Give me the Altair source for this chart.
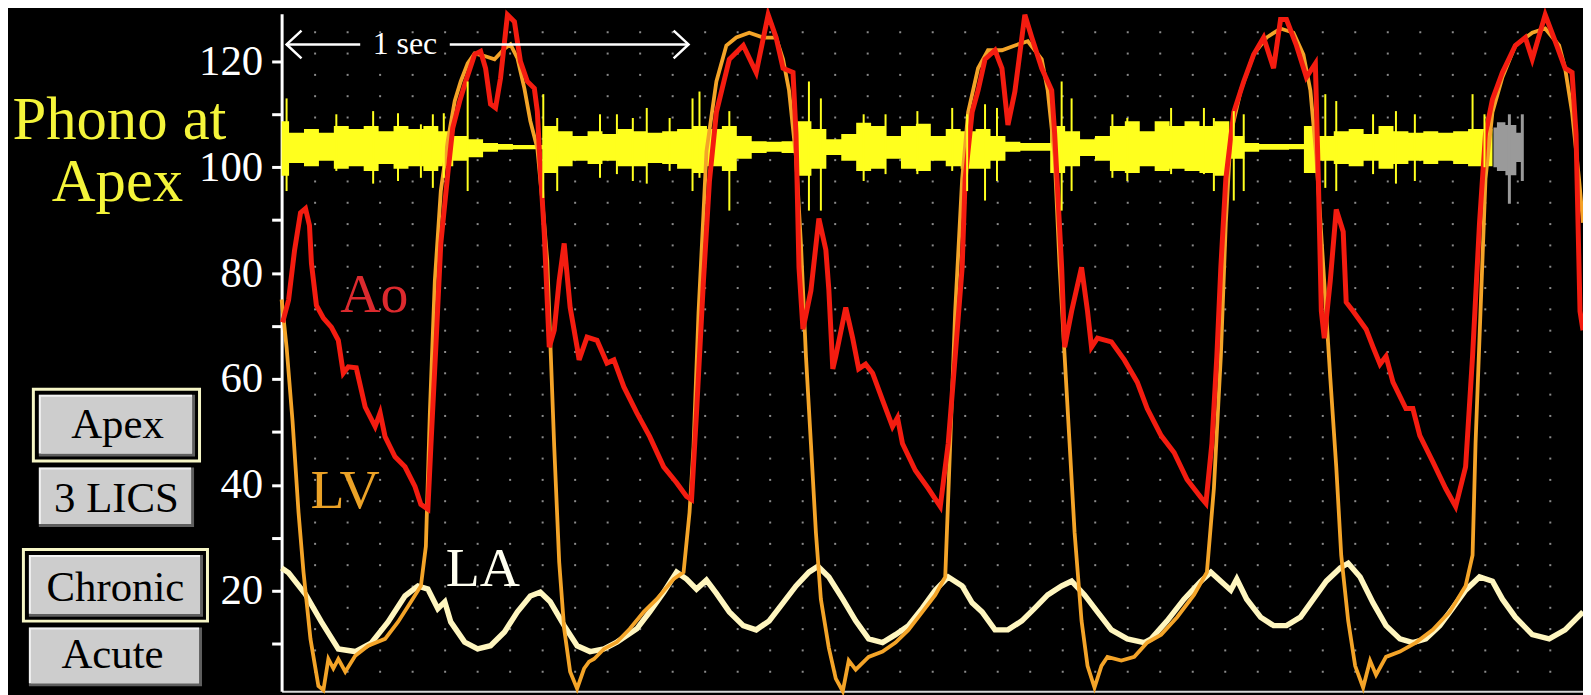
import altair as alt
import numpy as np
import pandas as pd

# x: sample index of the digitised tracing (404 samples = 1 sec); y: pressure in mmHg
ao = [(1, 70.7), (7, 74.9), (13, 84.3), (19, 91.4), (24, 92.2), (28, 89.0), (30, 81.8), (35, 73.9),
      (42, 71.5), (50, 69.8), (57, 67.3), (62, 61.1), (67, 62.3), (75, 62.1), (84, 54.7), (94, 51.0),
      (99, 53.6), (104, 49.1), (114, 45.3), (124, 43.4), (134, 39.7), (140, 36.3), (147, 35.4),
      (150, 47.2), (155, 66.0), (160, 85.6), (167, 98.7), (172, 107.4), (179, 112.5), (185, 116.2),
      (194, 121.3), (200, 121.9), (205, 118.7), (210, 111.9), (215, 111.2), (220, 116.8), (227, 128.8),
      (234, 127.5), (240, 120.0), (247, 116.2), (254, 114.9), (257, 110.6), (260, 99.9), (264, 87.5),
      (269, 66.0), (274, 69.2), (279, 78.6), (284, 85.6), (290, 73.5), (297, 66.0), (299, 63.6),
      (307, 67.9), (317, 67.3), (327, 63.0), (334, 63.6), (344, 58.5), (357, 53.6), (370, 49.1),
      (384, 43.4), (397, 40.4), (407, 37.8), (412, 37.2), (417, 53.6), (424, 78.6), (430, 97.4),
      (437, 110.4), (450, 120.4), (464, 123.0), (477, 117.9), (489, 128.8), (497, 124.5), (504, 118.7),
      (514, 117.9), (517, 106.3), (520, 81.1), (524, 69.4), (532, 76.7), (540, 90.3), (547, 84.4),
      (550, 76.9), (554, 61.9), (557, 64.3), (567, 73.5), (574, 67.7), (580, 61.9), (587, 62.8),
      (594, 61.1), (604, 56.0), (614, 51.0), (619, 52.7), (624, 47.8), (637, 42.7), (650, 39.3),
      (662, 35.9), (670, 47.8), (677, 64.3), (684, 81.1), (687, 97.8), (694, 110.4), (700, 114.5),
      (707, 120.4), (717, 122.1), (724, 118.7), (730, 108.0), (737, 114.3), (747, 128.8), (754, 124.5),
      (764, 118.7), (774, 114.5), (777, 106.3), (784, 81.1), (787, 66.0), (794, 72.8), (804, 81.1),
      (810, 72.8), (814, 66.0), (820, 67.7), (834, 67.0), (847, 63.6), (860, 59.4), (870, 54.4),
      (884, 49.3), (897, 46.1), (910, 41.0), (924, 37.6), (929, 36.5), (935, 47.8), (940, 64.3),
      (944, 81.1), (949, 97.8), (957, 110.4), (967, 116.2), (977, 121.3), (987, 124.5), (997, 118.7),
      (1004, 127.9), (1010, 127.9), (1020, 123.0), (1030, 117.0), (1039, 119.6), (1042, 97.8),
      (1045, 72.8), (1048, 67.7), (1054, 78.6), (1060, 92.0), (1067, 87.8), (1070, 74.5), (1077, 72.8),
      (1090, 69.4), (1097, 66.0), (1104, 62.8), (1110, 64.3), (1117, 59.4), (1130, 54.4), (1137, 54.4),
      (1144, 49.3), (1157, 44.4), (1170, 39.3), (1180, 35.9), (1190, 43.4), (1197, 64.3), (1204, 89.5),
      (1210, 106.3), (1217, 112.8), (1227, 117.9), (1240, 123.0), (1250, 124.5), (1257, 120.4),
      (1270, 128.8), (1280, 123.8), (1290, 118.7), (1297, 117.9), (1301, 106.3), (1305, 72.8),
      (1308, 69.2)]

lv = [(0, 75.0), (5, 66.0), (11, 52.0), (17, 34.8), (22, 23.5), (29, 10.9), (37, 2.0), (42, 1.2),
      (47, 7.1), (52, 5.3), (57, 7.1), (64, 4.7), (74, 7.7), (87, 9.6), (104, 10.9), (117, 14.1),
      (130, 17.9), (140, 20.9), (145, 28.4), (149, 53.6), (154, 78.6), (160, 95.5), (167, 105.0),
      (174, 112.5), (180, 116.2), (187, 119.6), (194, 121.5), (204, 121.0), (214, 120.4), (224, 122.4),
      (230, 123.2), (237, 120.6), (244, 114.9), (250, 108.7), (257, 103.6), (262, 93.7), (267, 82.4),
      (269, 72.4), (274, 47.2), (279, 25.4), (284, 12.8), (290, 4.7), (297, 1.5), (304, 5.3),
      (309, 6.6), (314, 7.1), (324, 9.0), (337, 10.3), (350, 12.8), (364, 16.0), (377, 18.4),
      (394, 22.2), (404, 23.5), (410, 34.8), (414, 47.2), (419, 72.4), (424, 91.2), (427, 103.0),
      (437, 116.2), (447, 123.0), (457, 124.5), (470, 125.4), (484, 124.5), (497, 124.5), (504, 120.4),
      (510, 114.5), (517, 101.9), (522, 85.4), (527, 64.3), (532, 47.8), (537, 31.0), (542, 18.4),
      (550, 9.2), (557, 3.4), (564, 1.0), (570, 6.8), (577, 5.1), (590, 7.5), (604, 8.5), (617, 10.2),
      (630, 12.6), (644, 16.0), (657, 19.2), (667, 22.6), (672, 47.8), (677, 72.8), (684, 97.8),
      (690, 110.4), (700, 118.7), (710, 122.1), (724, 122.1), (737, 123.0), (750, 123.8), (764, 120.4),
      (770, 114.5), (777, 101.9), (782, 81.1), (787, 64.3), (792, 47.8), (797, 31.0), (804, 14.3),
      (810, 5.8), (817, 1.7), (824, 5.8), (830, 7.5), (844, 6.8), (857, 7.5), (870, 10.2), (884, 11.7),
      (900, 15.0), (917, 19.2), (930, 23.5), (937, 39.3), (944, 64.3), (949, 89.5), (954, 106.3),
      (964, 114.5), (977, 121.3), (990, 124.5), (1004, 126.2), (1017, 125.4), (1027, 121.3),
      (1034, 114.5), (1040, 101.9), (1047, 81.1), (1054, 60.2), (1060, 43.4), (1065, 26.7),
      (1072, 14.3), (1079, 5.8), (1087, 1.7), (1094, 6.8), (1100, 4.1), (1110, 7.5), (1124, 8.5),
      (1140, 10.2), (1157, 12.6), (1174, 16.0), (1190, 20.9), (1197, 26.7), (1200, 47.8), (1205, 72.8),
      (1210, 97.8), (1217, 110.4), (1227, 117.0), (1240, 123.0), (1257, 125.4), (1270, 126.2),
      (1284, 123.0), (1290, 118.7), (1297, 110.4), (1304, 97.8), (1308, 89.5)]

la = [(0, 24.3), (7, 23.4), (24, 19.3), (40, 14.1), (57, 9.0), (74, 8.5), (90, 10.1), (107, 14.1),
      (124, 19.0), (137, 20.9), (147, 20.3), (157, 16.6), (164, 17.9), (170, 14.1), (184, 10.3),
      (197, 9.0), (210, 9.6), (224, 12.2), (237, 16.0), (250, 19.0), (260, 19.7), (270, 17.9),
      (284, 13.4), (297, 9.6), (310, 8.5), (324, 9.0), (337, 10.3), (357, 12.8), (370, 16.0),
      (384, 19.7), (397, 23.5), (407, 22.2), (417, 20.3), (427, 22.0), (437, 19.5), (450, 16.0),
      (464, 13.4), (477, 12.6), (490, 14.3), (504, 17.7), (517, 20.9), (530, 23.5), (539, 24.6),
      (550, 22.6), (564, 18.4), (577, 14.3), (590, 10.9), (604, 10.2), (617, 11.7), (630, 13.4),
      (644, 16.7), (657, 20.1), (670, 22.6), (684, 20.9), (694, 17.7), (704, 16.0), (717, 12.6),
      (730, 12.6), (744, 14.3), (757, 16.7), (770, 19.2), (784, 20.9), (794, 21.8), (807, 19.2),
      (820, 16.0), (834, 12.6), (850, 10.9), (867, 10.2), (874, 10.9), (890, 14.3), (907, 18.4),
      (924, 21.8), (934, 23.5), (944, 21.8), (954, 20.1), (960, 22.2), (970, 18.4), (984, 15.0),
      (997, 13.4), (1010, 13.4), (1024, 15.0), (1037, 18.4), (1050, 21.8), (1064, 24.3), (1072, 25.2),
      (1084, 22.6), (1097, 17.7), (1110, 13.4), (1124, 10.9), (1137, 10.2), (1150, 10.9), (1164, 13.4),
      (1177, 16.7), (1190, 20.1), (1204, 22.6), (1217, 21.8), (1227, 18.4), (1240, 15.0), (1257, 11.7),
      (1274, 10.9), (1290, 12.6), (1308, 16.0)]

# phonocardiogram envelope (sample, upper, lower), drawn on the same pressure scale
phono_env = [(0, 108.7, 98.4), (15, 106.5, 100.8), (30, 107.2, 100.2), (45, 106.5, 101.2),
             (60, 107.8, 99.7), (75, 107.2, 100.2), (90, 107.8, 99.3), (105, 106.8, 100.6),
             (120, 107.8, 99.7), (135, 107.2, 100.2), (150, 107.8, 99.3), (165, 106.8, 100.2),
             (180, 105.9, 101.2), (195, 105.3, 101.9), (210, 104.6, 102.9), (225, 104.4, 103.3),
             (240, 104.2, 103.4), (255, 104.2, 103.4), (270, 107.8, 98.9), (285, 106.8, 100.2),
             (300, 105.9, 101.2), (315, 106.8, 100.6), (330, 106.3, 101.2), (345, 107.2, 100.2),
             (360, 106.8, 100.2), (375, 106.5, 100.8), (390, 106.8, 100.6), (405, 107.2, 99.7),
             (420, 107.8, 98.9), (435, 107.2, 100.2), (450, 107.8, 99.3), (465, 105.9, 101.6),
             (480, 104.9, 102.7), (495, 104.8, 102.9), (510, 104.9, 102.7), (525, 108.7, 98.4),
             (540, 107.2, 99.7), (555, 105.3, 102.3), (570, 106.3, 101.2), (585, 108.4, 99.3),
             (600, 107.8, 99.7), (615, 105.9, 101.6), (630, 107.8, 99.7), (645, 108.2, 99.3),
             (660, 105.9, 101.2), (675, 107.2, 100.2), (690, 106.8, 99.7), (705, 107.2, 99.7),
             (720, 105.9, 101.2), (735, 104.8, 102.9), (750, 104.6, 103.1), (765, 104.6, 103.1),
             (780, 107.8, 98.9), (795, 106.8, 100.2), (810, 105.3, 102.1), (825, 105.9, 101.2),
             (840, 107.8, 99.3), (855, 108.7, 98.9), (870, 106.8, 100.2), (885, 108.7, 99.3),
             (900, 107.8, 99.7), (915, 108.7, 99.3), (930, 107.8, 98.9), (945, 108.7, 98.4),
             (960, 105.9, 101.6), (975, 104.6, 102.9), (990, 104.4, 103.3), (1005, 104.4, 103.3),
             (1020, 104.4, 103.4), (1035, 107.8, 98.9), (1050, 105.9, 101.2), (1065, 106.8, 100.6),
             (1080, 107.2, 100.2), (1095, 106.3, 101.2), (1110, 107.8, 99.7), (1125, 106.8, 100.6),
             (1140, 106.5, 101.2), (1155, 106.8, 100.6), (1170, 106.5, 101.2), (1185, 106.8, 100.6),
             (1200, 107.2, 100.2), (1217, 107.2, 100.2)]

phono_spikes = [(5, 113.0, 95.5), (55, 110.0, 99.3), (92, 110.6, 96.9), (117, 110.2, 97.4),
                (140, 108.1, 98.0), (152, 110.0, 96.1), (163, 110.2, 98.0), (187, 116.2, 95.5),
                (263, 113.8, 94.2), (277, 109.3, 95.5), (320, 110.0, 98.0), (337, 110.0, 98.7),
                (353, 109.3, 97.4), (367, 111.2, 96.9), (390, 109.3, 99.3), (413, 113.0, 95.5),
                (420, 114.3, 98.0), (450, 110.6, 91.8), (530, 116.2, 91.8), (542, 113.0, 91.8),
                (585, 110.0, 97.4), (607, 110.0, 98.7), (639, 110.6, 98.7), (674, 111.2, 99.3),
                (689, 110.0, 95.5), (707, 111.9, 93.7), (719, 111.2, 97.4), (784, 116.2, 91.8),
                (794, 113.0, 95.5), (835, 110.0, 98.0), (850, 109.3, 97.4), (894, 111.2, 98.7),
                (927, 111.2, 98.7), (937, 109.3, 95.5), (957, 110.6, 93.7), (967, 110.0, 95.5),
                (1049, 113.8, 96.1), (1060, 112.5, 95.5), (1097, 110.0, 98.7), (1120, 110.6, 96.9),
                (1139, 110.0, 97.4), (1197, 113.8, 102.5), (1209, 110.0, 100.0)]

artifact_env = [(1218, 107.5, 100.0), (1225, 108.5, 99.3), (1235, 108.0, 98.5), (1247, 106.5, 101.0)]
artifact_spikes = [(1234, 110.0, 93.1), (1247, 110.0, 97.4)]

y_ticks = [10, 20, 30, 40, 50, 60, 70, 80, 90, 100, 110, 120]
one_sec = (5, 409)            # samples: the "1 sec" calibration arrow
arrow_level = 123.2
trace_labels = [("Ao", 59, 72.6, "#dc2a2e"), ("LV", 29, 35.7, "#eba227"), ("LA", 165, 20.9, "#fffff0")]

SERIF = "Liberation Serif"
W, H = 1308, 681
OX, OY = 283, 12   # page position of the plot origin

xsc = alt.Scale(domain=[0, 1308], nice=False, zero=False)
ysc = alt.Scale(domain=[1, 129], nice=False, zero=False)
xaxis = alt.Axis(title=None, labels=False, ticks=False, grid=False, domain=True,
                 domainColor="#d8d8d8", domainWidth=2)
yaxis = alt.Axis(title=None, values=y_ticks, labelExpr="datum.value % 20 == 0 ? datum.label : ''",
                 tickSize=10, tickWidth=3, tickColor="white", domainColor="white", domainWidth=3,
                 labelColor="white", labelFont=SERIF, labelFontSize=43, labelPadding=9,
                 labelOverlap=False, grid=False)


def X(f):
    return alt.X(f, type="quantitative", scale=xsc, axis=xaxis)


def Y(f):
    return alt.Y(f, type="quantitative", scale=ysc, axis=yaxis)


df_ao = pd.DataFrame(ao, columns=["s", "v"])
df_lv = pd.DataFrame(lv, columns=["s", "v"])
df_la = pd.DataFrame(la, columns=["s", "v"])
df_env = pd.DataFrame(phono_env, columns=["s", "hi", "lo"])
df_sp = pd.DataFrame(phono_spikes, columns=["s", "hi", "lo"])
df_aenv = pd.DataFrame(artifact_env, columns=["s", "hi", "lo"])
df_asp = pd.DataFrame(artifact_spikes, columns=["s", "hi", "lo"])

# dotted graticule
cols = 1 + 32.67 * np.arange(1, 40)
rows = 125.5 - 4.027 * np.arange(0, 31)
gx, gy = np.meshgrid(cols, rows)
df_grid = pd.DataFrame({"s": gx.ravel(), "v": gy.ravel()})

layers = []
layers.append(alt.Chart(df_grid).mark_square(size=4, color="#9a9a9a", opacity=0.9).encode(x=X("s"), y=Y("v")))
layers.append(alt.Chart(df_la).mark_line(color="#fff6bf", strokeWidth=5.5).encode(x=X("s"), y=Y("v")))
layers.append(alt.Chart(df_env).mark_area(color="#ffff1e", interpolate="step").encode(x=X("s"), y=Y("hi"), y2="lo"))
layers.append(alt.Chart(df_lv).mark_line(color="#f4a428", strokeWidth=3.8).encode(x=X("s"), y=Y("v")))
layers.append(alt.Chart(df_ao).mark_line(color="#f41c10", strokeWidth=5).encode(x=X("s"), y=Y("v")))
layers.append(alt.Chart(df_sp).mark_rule(color="#ffff1e", strokeWidth=2).encode(x=X("s"), y=Y("hi"), y2="lo"))
layers.append(alt.Chart(df_aenv).mark_area(color="#9a9a9a", interpolate="step").encode(x=X("s"), y=Y("hi"), y2="lo"))
layers.append(alt.Chart(df_asp).mark_rule(color="#9a9a9a", strokeWidth=3).encode(x=X("s"), y=Y("hi"), y2="lo"))

# trace labels
for txt, s, v, col in trace_labels:
    layers.append(alt.Chart(pd.DataFrame({"s": [s], "v": [v]})).mark_text(
        text=txt, font=SERIF, fontSize=56, align="left", baseline="alphabetic", color=col
    ).encode(x=X("s"), y=Y("v")))

# 1 sec calibration arrow
left_end, right_end = one_sec
df_shaft = pd.DataFrame({"a": [left_end, 169], "b": [79, right_end], "v": [arrow_level, arrow_level]})
layers.append(alt.Chart(df_shaft).mark_rule(color="white", strokeWidth=2.5).encode(x=X("a"), x2="b", y=Y("v")))
layers.append(alt.Chart(pd.DataFrame({"s": [left_end], "v": [arrow_level]})).mark_point(
    shape="M 1 -0.93 L 0 0 L 1 0.93", filled=False, size=900, color="white", strokeWidth=2.5, opacity=1
).encode(x=X("s"), y=Y("v")))
layers.append(alt.Chart(pd.DataFrame({"s": [right_end], "v": [arrow_level]})).mark_point(
    shape="M -1 -0.93 L 0 0 L -1 0.93", filled=False, size=900, color="white", strokeWidth=2.5, opacity=1
).encode(x=X("s"), y=Y("v")))
layers.append(alt.Chart(pd.DataFrame({"s": [(left_end + right_end) / 2 - 83], "v": [121.3]})).mark_text(
    text="1 sec", font=SERIF, fontSize=32, align="center", baseline="alphabetic", color="white"
).encode(x=X("s"), y=Y("v")))

one = pd.DataFrame({"k": [0]})


def rect(x1, y1, x2, y2, color):
    return alt.Chart(one).mark_rect(color=color).encode(
        x=alt.value(x1 - OX), x2=alt.value(x2 - OX), y=alt.value(y1 - OY), y2=alt.value(y2 - OY))


def text(t, x, y, size, color):
    return alt.Chart(one).mark_text(text=t, font=SERIF, fontSize=size, align="center",
                                    baseline="alphabetic", color=color).encode(
        x=alt.value(x - OX), y=alt.value(y - OY))


def button(x1, y1, x2, y2):
    return [rect(x1, y1, x2, y2, "#5e5e5e"),
            rect(x1, y1, x2 - 3, y2 - 3, "#f2f2f2"),
            rect(x1 + 2, y1 + 2, x2 - 3, y2 - 3, "#cdcdcd")]


# frames around the selected buttons
layers += [rect(32, 388, 202, 463, "#f6f6c6"), rect(35, 391, 199, 460, "#000000")]
layers += button(39, 395, 196, 457)
layers += button(39, 468, 195, 528)
layers += [rect(22, 549, 210, 624, "#f6f6c6"), rect(25, 552, 207, 621, "#000000")]
layers += button(29, 556, 204, 618)
layers += button(29, 629, 203, 688)
layers += [text("Apex", 118, 438, 43, "black"), text("3 LICS", 117, 513, 43, "black"),
           text("Chronic", 116, 602, 43, "black"), text("Acute", 113, 670, 43, "black")]
layers += [text("Phono at", 120, 138, 61, "#f4f43a"), text("Apex", 118, 200, 61, "#f4f43a")]

chart = alt.layer(*layers).properties(
    width=W, height=H, background="black",
    padding={"left": 275, "top": 4, "right": 0, "bottom": 2},
    autosize=alt.AutoSizeParams(type="none"),
).configure_view(stroke=None)

chart.save("out.html", embed_options={"renderer": "svg", "actions": False})
